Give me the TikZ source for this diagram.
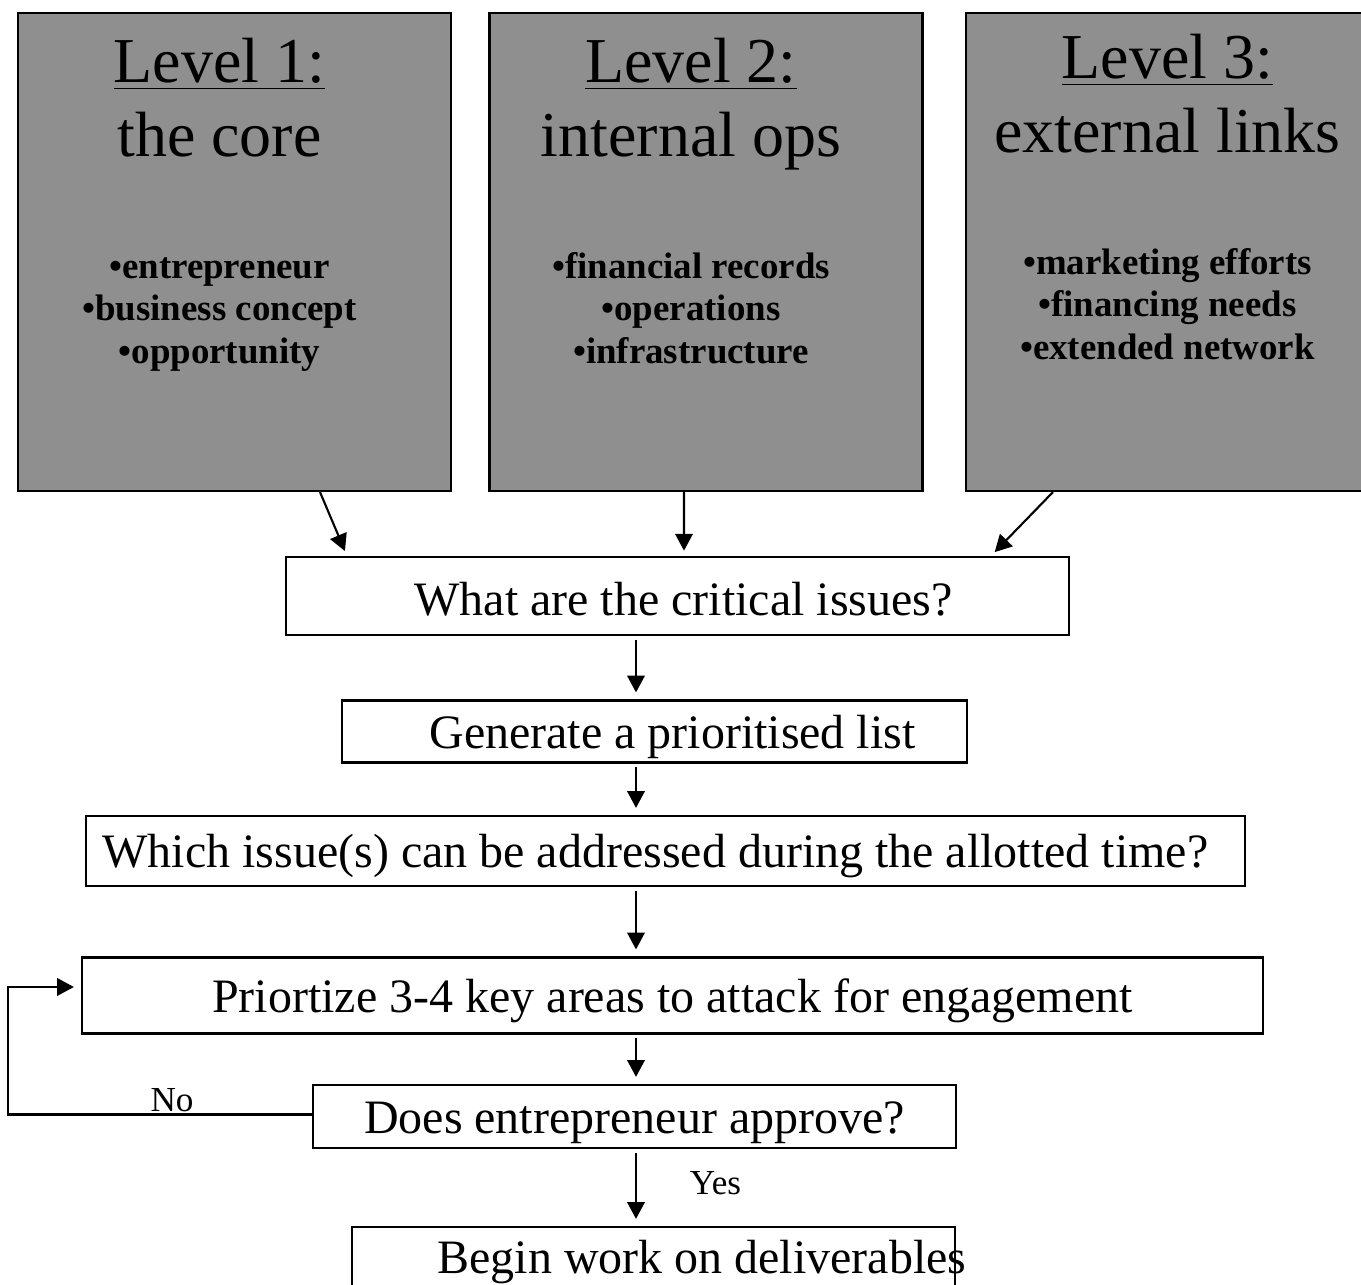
\documentclass[tikz,border=0pt]{standalone}
\usepackage{fontspec}
\setmainfont{Liberation Serif}
\usetikzlibrary{arrows.meta,positioning}
\definecolor{lvgray}{HTML}{8F8F8F}

\begin{document}
\begin{tikzpicture}[
  lvbox/.style={draw, fill=lvgray, minimum width=4.33cm, minimum height=4.78cm,
                inner sep=0pt},
  lvhead/.style={anchor=north, align=center, inner sep=0pt,
                 font=\fontsize{18.2}{21}\selectfont},
  lvlist/.style={anchor=north, align=center, inner sep=0pt,
                 font=\fontsize{10.5}{12.2}\selectfont\bfseries},
  fbox/.style={draw, inner sep=0pt, text height=9.5pt, text depth=0pt,
               font=\fontsize{13.65}{16}\selectfont},
  ftext/.style={inner sep=0pt, text height=9.5pt, text depth=0pt,
                font=\fontsize{13.65}{16}\selectfont},
  lbl/.style={inner sep=0pt, anchor=base, font=\fontsize{10}{12}\selectfont},
  line width=0.6pt,
  >={Triangle[length=4.8pt,width=5pt]}
]
\useasboundingbox (0,0) rectangle (13.61,-12.85);
\clip (0,0) rectangle (13.61,-12.85);

%--- the three levels ------------------------------------------------------
\node[lvbox] (lvA) at (2.345,-2.52) {};
\node[lvhead] (lvAhead) at (2.195,-0.30) {\strut\underline{Level 1:}\\the core};
\node[lvlist] (lvAlist) at (2.195,-2.47)
  {\strut•entrepreneur\\•business concept\\•opportunity};

\node[lvbox] (lvB) at (7.06,-2.52) {};
\node[lvhead] (lvBhead) at (6.91,-0.30) {\strut\underline{Level 2:}\\internal ops};
\node[lvlist] (lvBlist) at (6.91,-2.47)
  {\strut•financial records\\•operations\\•infrastructure};

\node[lvbox] (lvC) at (11.825,-2.52) {};
\node[lvhead] (lvChead) at (11.675,-0.26) {\strut\underline{Level 3:}\\external links};
\node[lvlist] (lvClist) at (11.675,-2.43)
  {\strut•marketing efforts\\•financing needs\\•extended network};

%--- flow ------------------------------------------------------------------
\node[fbox, minimum width=7.83cm, minimum height=0.78cm, text height=11pt] (crit)
  at (6.775,-5.96) {\hspace*{0.12cm}What are the critical issues?};
\node[fbox, minimum width=6.25cm, minimum height=0.62cm] (list) at (6.545,-7.315)
  {\hspace*{0.36cm}Generate a prioritised list};
\node[fbox, minimum width=11.59cm, minimum height=0.70cm] (which) at (6.655,-8.51)
  {\hspace*{-0.2cm}Which issue(s) can be addressed during the allotted time?};
\node[fbox, minimum width=11.81cm, minimum height=0.76cm] (prior) at (6.725,-9.955)
  {Priortize 3-4 key areas to attack for engagement};
\node[fbox, minimum width=6.43cm, minimum height=0.63cm] (does) at (6.345,-11.165)
  {Does entrepreneur approve?};
\node[fbox, minimum width=6.03cm, minimum height=0.59cm] (begin) at (6.535,-12.565) {};
\node[ftext] (begintxt) at ([xshift=0.485cm]begin.center) {Begin work on deliverables};

\coordinate (spine) at (6.36,0);
\coordinate (loopx) at (0.08,0);

% arrows into the first question
\draw[->, shorten >=1.5pt] ([xshift=0.855cm]lvA.south) -- ([xshift=-3.305cm]crit.north);
\draw[->, shorten >=1.5pt] ([xshift=-0.22cm]lvB.south) -- ([xshift=0.065cm]crit.north);
\draw[->, shorten >=1.5pt] ([xshift=-1.295cm]lvC.south) -- ([xshift=3.135cm]crit.north);

% main column
\draw[->, shorten <=1pt, shorten >=2pt] (crit.south -| spine) -- (list.north -| spine);
\draw[->, shorten <=1pt, shorten >=2pt] (list.south -| spine) -- (which.north -| spine);
\draw[->, shorten <=1pt, shorten >=2pt] (which.south -| spine) -- (prior.north -| spine);
\draw[->, shorten <=1pt, shorten >=2pt] (prior.south -| spine) -- (does.north -| spine);
\draw[->, shorten <=1pt, shorten >=2pt] (does.south -| spine) -- (begin.north -| spine);

% loop back
\draw[->, shorten >=2pt] ([yshift=0.02cm]does.west) -- ([yshift=0.02cm]does.west -| loopx)
  |- ([yshift=0.085cm]prior.west);
\node[lbl] (no) at (1.72,-11.12) {No};
\node[lbl] (yes) at (7.155,-11.95) {Yes};

\end{tikzpicture}
\end{document}
